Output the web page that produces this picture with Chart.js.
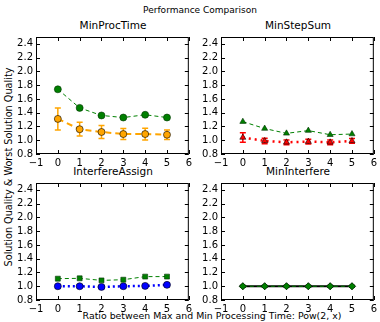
<!DOCTYPE html>
<html>
<head>
<meta charset="utf-8">
<script src="https://cdn.jsdelivr.net/npm/chart.js@4/dist/chart.umd.min.js"></script>
<style>
  html, body { margin: 0; padding: 0; background: #fff; }
  #wrap { position: relative; width: 380px; height: 322px; background: #fff; overflow: hidden;
          font-family: "DejaVu Sans", sans-serif; color: #000; }
  #wrap canvas { position: absolute; }
  .txt { position: absolute; white-space: nowrap; line-height: 1; }
  .sub { font-size: 10.5px; transform: translateX(-50%); }
</style>
</head>
<body>
<div id="wrap">
  <div class="txt" style="left:200px;top:6px;font-size:9px;transform:translateX(-50%)">Performance Comparison</div>
  <div class="txt sub" style="left:113px;top:20px">MinProcTime</div>
  <div class="txt sub" style="left:298px;top:20px">MinStepSum</div>
  <div class="txt sub" style="left:113px;top:166px">InterfereAssign</div>
  <div class="txt sub" style="left:298px;top:166px">MinInterfere</div>
  <div class="txt" style="left:212px;top:311px;font-size:9.4px;transform:translateX(-50%)">Ratio between Max and Min Processing Time: Pow(2, x)</div>
  <div class="txt" style="left:9px;top:167px;font-size:9.7px;transform:translate(-50%,-50%) rotate(-90deg)">Solution Quality &amp; Worst Solution Quality</div>
  <canvas id="c0" width="195" height="144" style="left:0px;top:28px"></canvas>
  <canvas id="c1" width="195" height="144" style="left:185px;top:28px"></canvas>
  <canvas id="c2" width="195" height="144" style="left:0px;top:174px"></canvas>
  <canvas id="c3" width="195" height="144" style="left:185px;top:174px"></canvas>
</div>
<script>
// 横軸 (x = log2 比)
var xVals = [0, 1, 2, 3, 4, 5];
var xTicks = [-1, 0, 1, 2, 3, 4, 5, 6];
var yTicks = [0.8, 1.0, 1.2, 1.4, 1.6, 1.8, 2.0, 2.2, 2.4];

// MinProcTime
var procWorst = [1.74, 1.47, 1.36, 1.33, 1.37, 1.33];
var procAvg = [1.31, 1.16, 1.12, 1.09, 1.09, 1.08];
var procAvgErr = [0.16, 0.10, 0.095, 0.08, 0.085, 0.07];
// MinStepSum
var stepWorst = [1.27, 1.17, 1.10, 1.14, 1.08, 1.09];
var stepAvg = [1.04, 0.99, 0.97, 0.98, 0.97, 0.99];
var stepAvgErr = [0.07, 0.04, 0.035, 0.035, 0.035, 0.035];
// InterfereAssign
var assignWorst = [1.11, 1.115, 1.085, 1.095, 1.14, 1.14];
var assignAvg = [1.0, 1.0, 0.99, 1.0, 1.005, 1.02];
var assignAvgErr = [0.02, 0.02, 0.02, 0.02, 0.02, 0.025];
// MinInterfere
var interfWorst = [1.0, 1.0, 1.0, 1.0, 1.0, 1.0];
var interfAvg = [1.0, 1.0, 1.0, 1.0, 1.0, 1.0];
var interfAvgErr = [0.01, 0.01, 0.01, 0.01, 0.01, 0.01];

function pts(ys) {
  return xVals.map(function (x, i) { return { x: x, y: ys[i] }; });
}

// 枠線と内向きの目盛り (matplotlib 風)
var framePlugin = {
  id: "frame",
  afterDatasetsDraw: function (chart) {
    var a = chart.chartArea, ctx = chart.ctx;
    var sx = chart.scales.x, sy = chart.scales.y;
    ctx.save();
    ctx.strokeStyle = "#000";
    ctx.lineWidth = 1;
    ctx.beginPath();
    sx.ticks.forEach(function (t) {
      var px = Math.round(sx.getPixelForValue(t.value)) + 0.5;
      ctx.moveTo(px, a.bottom); ctx.lineTo(px, a.bottom - 4);
      ctx.moveTo(px, a.top); ctx.lineTo(px, a.top + 4);
    });
    sy.ticks.forEach(function (t) {
      var py = Math.round(sy.getPixelForValue(t.value)) + 0.5;
      ctx.moveTo(a.left, py); ctx.lineTo(a.left + 4, py);
      ctx.moveTo(a.right, py); ctx.lineTo(a.right - 4, py);
    });
    ctx.stroke();
    ctx.strokeRect(a.left + 0.5, a.top + 0.5, a.right - a.left - 1, a.bottom - a.top - 1);
    ctx.restore();
  }
};

// 誤差棒
var errPlugin = {
  id: "errbars",
  beforeDatasetsDraw: function (chart) {
    var ctx = chart.ctx, sx = chart.scales.x, sy = chart.scales.y;
    chart.data.datasets.forEach(function (ds) {
      if (!ds.err) return;
      ctx.save();
      ctx.strokeStyle = ds.borderColor;
      ctx.lineWidth = 1.5;
      ctx.beginPath();
      ds.data.forEach(function (p, j) {
        var x = sx.getPixelForValue(p.x);
        var y1 = sy.getPixelForValue(p.y - ds.err[j]);
        var y2 = sy.getPixelForValue(p.y + ds.err[j]);
        ctx.moveTo(x, y1); ctx.lineTo(x, y2);
        ctx.moveTo(x - 3, y1); ctx.lineTo(x + 3, y1);
        ctx.moveTo(x - 3, y2); ctx.lineTo(x + 3, y2);
      });
      ctx.stroke();
      ctx.restore();
    });
  }
};

function worstSet(ys, style) {
  return {
    data: pts(ys), borderColor: "#008000", backgroundColor: "#008000",
    borderWidth: 1, borderDash: [4, 3], pointStyle: style, pointRadius: 3.5,
    pointBorderColor: "#003300", pointBorderWidth: 0.6, order: 1
  };
}

function avgSet(ys, err, color, width, dash, style) {
  return {
    data: pts(ys), err: err, borderColor: color, backgroundColor: color,
    borderWidth: width, borderDash: dash, pointStyle: style, pointRadius: 3.5,
    pointBorderColor: "#000", pointBorderWidth: 0.6, order: 2
  };
}

function panel(id, datasets) {
  var tickFont = { family: "DejaVu Sans", size: 10 };
  return new Chart(document.getElementById(id), {
    type: "line",
    data: { datasets: datasets },
    plugins: [errPlugin, framePlugin],
    options: {
      responsive: false,
      animation: false,
      devicePixelRatio: 1,
      layout: { padding: { left: 6, right: 5, top: 6, bottom: 0 } },
      plugins: { legend: { display: false }, tooltip: { enabled: false }, title: { display: false } },
      elements: { line: { tension: 0 } },
      scales: {
        x: {
          type: "linear", min: -1, max: 6,
          afterBuildTicks: function (s) { s.ticks = xTicks.map(function (v) { return { value: v }; }); },
          afterFit: function (s) { s.height = 18; },
          grid: { display: false, drawTicks: false }, border: { display: false },
          ticks: { font: tickFont, color: "#000", padding: 3, maxRotation: 0, autoSkip: false,
            callback: function (v) { return v < 0 ? "\u2212" + Math.abs(v) : String(v); } }
        },
        y: {
          type: "linear", min: 0.8, max: 2.5,
          afterBuildTicks: function (s) { s.ticks = yTicks.map(function (v) { return { value: v }; }); },
          afterFit: function (s) { s.width = 30; },
          grid: { display: false, drawTicks: false }, border: { display: false },
          ticks: { font: tickFont, color: "#000", padding: 3, autoSkip: false,
            callback: function (v) { return Number(v).toFixed(1); } }
        }
      }
    }
  });
}

panel("c0", [
  avgSet(procAvg, procAvgErr, "#FFA500", 2, [6, 4], "circle"),
  worstSet(procWorst, "circle")
]);
panel("c1", [
  avgSet(stepAvg, stepAvgErr, "#FF0000", 2.5, [2, 4], "triangle"),
  worstSet(stepWorst, "triangle")
]);
panel("c2", [
  avgSet(assignAvg, assignAvgErr, "#0000FF", 2.5, [2, 3], "circle"),
  worstSet(assignWorst, "rect")
]);
panel("c3", [
  avgSet(interfAvg, interfAvgErr, "#000000", 2, [], "rectRot"),
  worstSet(interfWorst, "rectRot")
]);
</script>
</body>
</html>
